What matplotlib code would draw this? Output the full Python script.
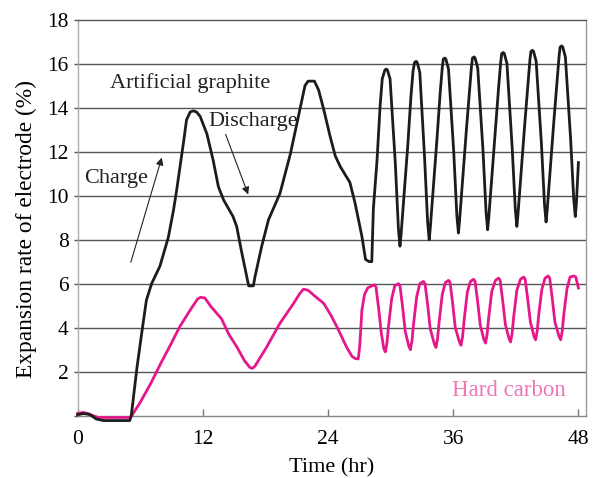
import matplotlib
matplotlib.use("Agg")
import matplotlib.pyplot as plt

plt.rcParams['font.family'] = ['Liberation Serif', 'DejaVu Serif']

# Artificial graphite (black)
ag_t = [0, 0.6, 1.2, 1.8, 2.5, 4.0, 5.0, 5.15,
        5.7, 6.15, 6.6, 7.1, 7.9, 8.7, 9.2, 9.5, 10.15, 10.45, 10.8, 11.1, 11.4,
        11.75, 12.4, 13.0, 13.5, 14.0, 14.9, 15.25, 15.7, 16.4, 16.85,
        17.0, 17.65, 18.3, 19.4, 20.4, 21.3, 21.8, 22.1, 22.7, 23.1, 23.6, 24.2,
        24.7, 25.2, 26.1, 26.6, 27.25, 27.6, 27.95, 28.2,
        28.35, 28.7, 29.0, 29.2, 29.45, 29.6, 29.7, 29.95, 30.45, 30.75, 30.9,
        31.0, 31.3, 31.65, 31.95, 32.15, 32.3, 32.45, 32.55, 32.8, 33.25, 33.55, 33.7,
        33.8, 34.1, 34.45, 34.75, 34.95, 35.05, 35.2, 35.3, 35.55, 36.05, 36.35, 36.5,
        36.6, 36.9, 37.25, 37.55, 37.75, 37.85, 38.0, 38.1, 38.35, 38.85, 39.15, 39.3,
        39.4, 39.7, 40.05, 40.35, 40.55, 40.65, 40.8, 40.9, 41.15, 41.65, 41.95, 42.1,
        42.2, 42.5, 42.85, 43.15, 43.35, 43.45, 43.6, 43.7, 43.95, 44.45, 44.75, 44.9,
        45.0, 45.3, 45.65, 45.95, 46.15, 46.25, 46.4, 46.5, 46.75, 47.25, 47.55, 47.7,
        47.8, 48.0]
ag_v = [0.05, 0.1, 0.05, -0.15, -0.22, -0.22, -0.22, 0.0,
        2.2, 3.75, 5.25, 6.0, 6.8, 8.1, 9.35, 10.25, 12.4, 13.45, 13.8, 13.85, 13.8,
        13.6, 12.8, 11.6, 10.4, 9.8, 9.05, 8.6, 7.5, 5.9, 5.9,
        6.3, 7.7, 8.9, 10.1, 11.9, 13.9, 15.0, 15.2, 15.2, 14.8, 13.9, 12.7,
        11.8, 11.3, 10.6, 9.65, 8.15, 7.1, 7.0, 7.0,
        9.4, 11.6, 14.1, 15.3, 15.7, 15.75, 15.7, 15.3, 11.5, 8.5, 7.7,
        8.2, 10.1, 12.3, 14.5, 15.65, 16.05, 16.1, 16.05, 15.6, 11.8, 8.8, 8.0,
        8.5, 10.4, 12.6, 14.65, 15.8, 16.2, 16.25, 16.2, 15.75, 12.0, 9.1, 8.3,
        8.8, 10.7, 12.9, 14.7, 15.85, 16.25, 16.3, 16.25, 15.8, 12.1, 9.25, 8.45,
        8.95, 10.85, 13.05, 14.9, 16.05, 16.45, 16.5, 16.45, 16.0, 12.2, 9.4, 8.6,
        9.1, 11.0, 13.2, 15.0, 16.15, 16.55, 16.6, 16.55, 16.1, 12.4, 9.6, 8.8,
        9.3, 11.2, 13.4, 15.2, 16.35, 16.75, 16.8, 16.75, 16.3, 12.6, 9.85, 9.05,
        9.6, 11.5]

# Hard carbon (magenta)
hc_t = [0, 0.5, 1.0, 1.5, 2.0, 3.5, 5.0, 5.2,
        6.0, 7.0, 8.0, 9.0, 9.8, 10.8, 11.5, 11.8, 12.2,
        12.8, 13.8, 14.5, 15.3, 16.0, 16.5, 16.75, 17.0, 18.1, 19.4, 20.7, 21.3,
        21.65, 22.1, 22.7, 23.6, 24.3, 24.85, 25.8, 26.3, 26.6, 26.9,
        27.05, 27.25, 27.5, 27.8, 28.2, 28.45,
        28.6, 28.85, 29.1, 29.35, 29.5, 29.65, 29.8, 30.1, 30.4, 30.75,
        30.9, 31.15, 31.4, 31.75, 31.9, 32.05, 32.2, 32.5, 32.8, 33.15,
        33.3, 33.55, 33.8, 34.2, 34.35, 34.5, 34.65, 34.95, 35.25, 35.55,
        35.7, 35.95, 36.2, 36.6, 36.75, 36.9, 37.05, 37.35, 37.65, 37.95,
        38.1, 38.35, 38.6, 38.95, 39.1, 39.25, 39.4, 39.7, 40.05, 40.35,
        40.5, 40.75, 41.0, 41.35, 41.5, 41.65, 41.8, 42.1, 42.45, 42.75,
        42.9, 43.15, 43.4, 43.75, 43.9, 44.05, 44.2, 44.5, 44.8, 45.1,
        45.25, 45.5, 45.75, 46.15, 46.3, 46.45, 46.6, 46.9, 47.2, 47.55,
        47.75, 47.9, 48.0]
hc_v = [0.1, 0.15, 0.1, 0.0, -0.08, -0.08, -0.08, 0.0,
        0.6, 1.45, 2.4, 3.3, 4.05, 4.8, 5.3, 5.38, 5.35,
        4.95, 4.4, 3.7, 3.1, 2.5, 2.2, 2.15, 2.25, 3.1, 4.2, 5.1, 5.55,
        5.75, 5.7, 5.45, 5.1, 4.55, 4.05, 3.1, 2.7, 2.6, 2.58,
        3.2, 4.8, 5.5, 5.8, 5.9, 5.94,
        5.85, 4.9, 3.8, 3.05, 2.9, 3.3, 4.05, 5.3, 5.9, 6.0,
        5.9, 4.95, 3.85, 3.15, 3.0, 3.4, 4.15, 5.4, 6.0, 6.1,
        6.0, 5.05, 3.95, 3.25, 3.1, 3.5, 4.25, 5.5, 6.05, 6.15,
        6.05, 5.1, 4.0, 3.35, 3.2, 3.6, 4.35, 5.6, 6.1, 6.2,
        6.1, 5.15, 4.1, 3.45, 3.3, 3.7, 4.45, 5.65, 6.15, 6.25,
        6.15, 5.2, 4.15, 3.5, 3.35, 3.75, 4.5, 5.7, 6.2, 6.3,
        6.2, 5.25, 4.25, 3.6, 3.45, 3.85, 4.6, 5.75, 6.25, 6.35,
        6.25, 5.3, 4.25, 3.6, 3.45, 3.85, 4.6, 5.75, 6.3, 6.35,
        6.3, 6.0, 5.8]

x_ticks = [0, 12, 24, 36, 48]
y_ticks = [0, 2, 4, 6, 8, 10, 12, 14, 16, 18]
y_labels = ['', '2', '4', '6', '8', '10', '12', '14', '16', '18']

BLACK = '#1c1c1c'
PINK = '#E5178B'
PINK_TEXT = '#EE78B6'
GRID = '#555555'

fig = plt.figure(figsize=(5.95, 4.78), dpi=100)
ax = fig.add_axes([0.1303, 0.1303, 0.8541, 0.8289])

ax.set_xlim(0, 48.7)
ax.set_ylim(0, 18)

for yv in y_ticks[1:-1]:
    ax.axhline(yv, color=GRID, lw=1.0, zorder=1)

ax.plot(hc_t, hc_v, color=PINK, lw=2.0, zorder=3, clip_on=False)
ax.plot(ag_t, ag_v, color=BLACK, lw=2.0, zorder=4, clip_on=False)

ax.set_xticks(x_ticks)
ax.set_yticks(y_ticks)
ax.set_yticklabels(y_labels)
ax.tick_params(axis='x', direction='in', length=5, width=1, color='#777777',
               labelsize=15.5, pad=10.5)
ax.tick_params(axis='y', direction='out', length=3, width=1, color='#555555',
               labelsize=15.5, pad=3.5)

ax.spines['top'].set_color(GRID)
ax.spines['left'].set_color('#aaaaaa')
ax.spines['right'].set_color('#999999')
ax.spines['bottom'].set_color('#888888')
for s in ax.spines.values():
    s.set_linewidth(1.0)

ax.set_xlabel('Time (hr)', fontsize=16, labelpad=6.5)
fig.text(0.045, 0.52, 'Expansion rate of electrode (%)', rotation=90,
         fontsize=16.8, ha='center', va='center')

ax.text(3.1, 14.88, 'Artificial graphite', fontsize=16, color='#222222', va='baseline')
ax.text(12.5, 13.17, 'Discharge', fontsize=16, color='#222222', va='baseline')
ax.text(0.62, 10.56, 'Charge', fontsize=16, color='#222222', va='baseline')
ax.text(35.9, 0.91, 'Hard carbon', fontsize=16.5, color=PINK_TEXT, va='baseline')

ax.annotate('', xy=(8.15, 11.85), xytext=(5.03, 6.85),
            arrowprops=dict(arrowstyle='-|>', lw=0.8, color='#222222', mutation_scale=11))
ax.annotate('', xy=(16.45, 9.93), xytext=(14.1, 12.9),
            arrowprops=dict(arrowstyle='-|>', lw=0.8, color='#222222', mutation_scale=11))

fig.savefig('out.png', dpi=100)
